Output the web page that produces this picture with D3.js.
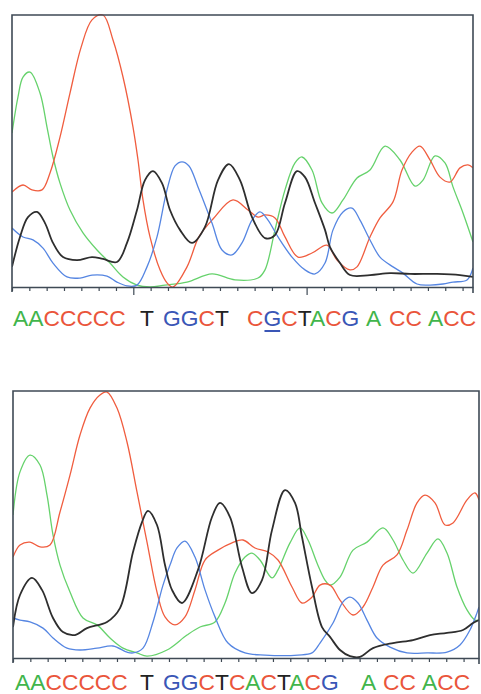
<!DOCTYPE html>
<html>
<head>
<meta charset="utf-8">
<title>Sequencing traces</title>
<script src="https://cdn.jsdelivr.net/npm/d3@7/dist/d3.min.js"></script>
<style>
  body { margin: 0; background: #fff; }
  svg { display: block; }
</style>
</head>
<body>
<svg id="chart" width="481" height="694"></svg>
<script>
// traces: [scan offset, signal % of full scale]
// A = green, C = red, T = black, G = blue
var topA = [[0,56.6],[6,69.9],[11,77.2],[18,79.0],[28,71.3],[35,58.8],[41,47.8],[48,38.2],[58,28.3],[71,19.9],[85,13.6],[98,8.8],[111,3.7],[125,0.7],[138,0],[153,0.7],[175,1.8],[200,4.8],[223,2.6],[246,3.3],[253,6.3],[263,21.0],[273,35.7],[283,45.6],[290,47.8],[300,43.0],[310,30.9],[320,27.2],[331,32.0],[345,40.1],[358,43.0],[373,51.8],[388,46.7],[403,37.1],[411,39.3],[423,48.2],[433,45.6],[441,36.8],[451,27.2],[461,16.5]];
var topC = [[0,34.9],[11,37.5],[20,35.7],[30,35.7],[38,41.9],[48,55.1],[58,71.3],[69,88],[80,98.2],[91,100],[101,90.8],[111,77.2],[121,58.8],[126,46.7],[131,32.0],[138,18.4],[148,6.3],[155,1.5],[161,0],[175,7.4],[187,18.5],[201,25],[221,32.0],[236,28.3],[246,25.7],[253,26.5],[263,25.4],[273,18.4],[286,11.0],[300,12.5],[315,15.4],[325,9.9],[338,6.3],[345,7.4],[358,18.4],[368,25.4],[381,31.3],[390,43.0],[400,49.6],[408,51.8],[418,46.7],[428,40.4],[438,38.6],[448,43.8],[456,44.9],[461,43.8]];
var topT = [[0,7.4],[8,18.4],[16,25.7],[25,27.6],[33,23.5],[41,16.2],[51,11.0],[65,9.9],[80,11.0],[91,10.3],[105,9.2],[115,16.2],[125,28.3],[133,39.3],[141,42.6],[150,38.2],[158,28.3],[168,21.0],[180,16.2],[193,22.1],[206,39.3],[217,45.2],[228,39.3],[240,25.7],[253,18.0],[263,19.1],[273,30.9],[285,42.6],[293,40.4],[303,30.9],[313,21.0],[318,14.7],[328,8.8],[338,4.4],[358,4.4],[378,5.1],[398,4.8],[425,4.8],[448,4.4],[461,3.7]];
var topG = [[0,21.7],[11,18.4],[21,17.3],[31,14.3],[41,8.8],[55,3.7],[68,3.3],[80,4.4],[95,4.0],[105,1.8],[115,0.4],[125,0.7],[135,7.4],[145,18.4],[155,35.7],[163,44.5],[170,46],[177,44.5],[186,36.8],[200,23.5],[210,13.6],[220,11.8],[230,16.2],[240,24.6],[248,27.6],[256,24.6],[266,18.4],[280,11.0],[293,6.3],[303,4.8],[313,8.8],[321,21.0],[331,27.6],[340,29.0],[348,24.6],[358,17.3],[368,11.0],[381,7.4],[391,5.1],[405,1.1],[418,0.7],[431,1.1],[441,1.8],[455,2.6],[461,7.0]];

var botA = [[0,53.6],[7,69.7],[17,76.0],[27,72.3],[34,61.0],[40,46.1],[47,34.8],[57,24.7],[70,15.0],[84,12.4],[97,7.5],[110,3.7],[124,1.9],[134,0.7],[154,3.0],[174,8.6],[187,11.6],[202,13.5],[212,20.6],[222,31.8],[232,37.8],[239,39.3],[247,36.7],[259,30.0],[265,33.0],[277,43.1],[287,48.7],[295,44.2],[304,35.6],[312,29.2],[317,27.3],[327,30.3],[340,40.4],[354,43.4],[370,48.7],[380,44.2],[390,36.7],[400,31.8],[414,39.3],[425,44.6],[434,39.3],[444,26.6],[454,18.0],[462,14.2],[466,14.2]];
var botC = [[0,37.8],[7,42.3],[17,43.4],[27,41.6],[37,42.3],[47,54.7],[57,68.5],[67,83.5],[77,93.6],[87,98.5],[94,99.6],[104,93.6],[114,80.9],[124,62.2],[134,43.4],[144,24.7],[152,15.4],[162,12.4],[172,15.4],[182,25.5],[192,36.7],[205,40.4],[219,43.1],[230,44.2],[242,41.2],[255,39.7],[265,36.7],[279,26.6],[289,20.6],[299,22.8],[307,27.3],[317,27.3],[327,21.7],[340,16.1],[350,19.1],[360,26.6],[370,34.8],[384,38.6],[394,47.9],[404,58.1],[412,61.0],[422,58.1],[432,49.8],[440,50.6],[454,59.2],[462,61.8],[466,59.2]];
var botT = [[0,11.6],[7,23.6],[19,30.0],[29,25.5],[40,15.0],[50,9.7],[62,8.6],[74,11.2],[94,13.5],[107,18.7],[120,39.7],[129,50.9],[135,55.1],[144,49.8],[152,34.8],[159,25.5],[169,20.6],[185,33.0],[199,52.8],[207,58.1],[217,52.8],[229,34.1],[239,24.3],[249,29.2],[259,47.9],[272,62.9],[282,58.1],[289,45.3],[299,26.6],[309,11.6],[317,7.9],[327,3.0],[337,0.7],[347,0.4],[360,3.7],[380,5.6],[400,6.7],[417,8.6],[434,9.4],[450,10.5],[460,13.1],[466,14.2]];
var botG = [[0,15.0],[7,14.2],[17,13.5],[30,11.2],[40,7.5],[54,3.7],[67,3.0],[84,3.7],[100,4.5],[114,2.2],[120,1.9],[130,3.7],[140,13.5],[150,27.3],[157,34.8],[164,41.2],[172,43.8],[182,37.8],[192,25.5],[202,15.4],[215,5.6],[232,1.9],[252,1.1],[285,1.1],[299,1.9],[307,5.6],[320,13.1],[330,21.0],[337,22.8],[345,20.6],[354,14.2],[364,7.5],[377,4.1],[394,1.9],[414,1.9],[434,2.2],[447,4.9],[457,10.5],[464,16.9],[466,19.1]];

// base calls, word by word
var topCalls = ["AACCCCC", "T", "GGCT", "CGCTACG", "A", "CC", "ACC"];
var botCalls = ["AACCCCC", "T", "GGCTCACTACG", "A", "CC", "ACC"];
// the mutated base in the top read (word index, letter index)
var topMark = [3, 1];

var baseColor = { A: "#41b54b", C: "#ea553b", T: "#222222", G: "#3a56b6" };
var traceColor = { A: "#66d26c", C: "#f05d3f", T: "#2e2e2e", G: "#5686e2" };

var svg = d3.select("#chart");

var panels = [
    { left: 12, right: 473, top: 15, bottom: 287, xMax: 461,
      traces: { A: topA, C: topC, G: topG, T: topT },
      calls: topCalls, callX: [13, 140, 163, 247, 366, 389, 428], baseline: 326, mark: topMark },
    { left: 13, right: 479, top: 391, bottom: 658, xMax: 466,
      traces: { A: botA, C: botC, G: botG, T: botT },
      calls: botCalls, callX: [15, 140, 163, 361, 383, 422], baseline: 690, mark: null }
];

var tickStep = 17.33;

panels.forEach(function(p, i) {
    var x = d3.scaleLinear().domain([0, p.xMax]).range([p.left, p.right]);
    var y = d3.scaleLinear().domain([0, 100]).range([p.bottom, p.top]);
    var g = svg.append("g");

    g.append("clipPath").attr("id", "clip" + i)
        .append("rect")
        .attr("x", p.left).attr("y", p.top - 2)
        .attr("width", p.right - p.left).attr("height", p.bottom - p.top + 2);

    var line = d3.line()
        .x(function(d) { return x(d[0]); })
        .y(function(d) { return y(d[1]); })
        .curve(d3.curveCatmullRom.alpha(0.5));

    ["A", "C", "G", "T"].forEach(function(b) {
        g.append("path")
            .datum(p.traces[b])
            .attr("clip-path", "url(#clip" + i + ")")
            .attr("fill", "none")
            .attr("stroke", traceColor[b])
            .attr("stroke-width", b == "T" ? 1.8 : 1.3)
            .attr("stroke-linejoin", "round")
            .attr("d", line);
    });

    // frame: left, top, right
    g.append("path")
        .attr("fill", "none")
        .attr("stroke", "#3f4a55")
        .attr("stroke-width", 1.6)
        .attr("d", "M" + p.left + "," + (p.bottom + 5) + "V" + p.top + "H" + p.right + "V" + (p.bottom + 6));

    // bottom axis with scan ticks
    var ticks = d3.range(0, p.xMax, tickStep);
    var axis = g.append("g")
        .attr("transform", "translate(0," + p.bottom + ")")
        .call(d3.axisBottom(x).tickValues(ticks).tickSize(4).tickSizeOuter(0).tickFormat(""));
    axis.select(".domain").attr("stroke", "#3f4a55").attr("stroke-width", 1.6);
    axis.selectAll(".tick line")
        .attr("stroke", "#3f4a55")
        .attr("stroke-width", 1.2)
        .attr("y2", function(d, k) { return (i == 0 && (k == 7 || k == 17)) ? 8 : 4; });

    // base calls
    p.calls.forEach(function(word, w) {
        var t = g.append("text")
            .attr("x", p.callX[w])
            .attr("y", p.baseline)
            .attr("font-family", "'Liberation Sans', Arial, sans-serif")
            .attr("font-size", "22.8px");
        word.split("").forEach(function(ch) {
            t.append("tspan").attr("fill", baseColor[ch]).text(ch);
        });
        if (p.mark && p.mark[0] == w) {
            var node = t.node();
            var k = p.mark[1];
            var off = k > 0 ? node.getSubStringLength(0, k) : 0;
            var wd = node.getSubStringLength(k, 1);
            g.append("line")
                .attr("x1", p.callX[w] + off + 1).attr("x2", p.callX[w] + off + wd - 1)
                .attr("y1", p.baseline + 5).attr("y2", p.baseline + 5)
                .attr("stroke", baseColor[word[k]])
                .attr("stroke-width", 2);
        }
    });
});
</script>
</body>
</html>
